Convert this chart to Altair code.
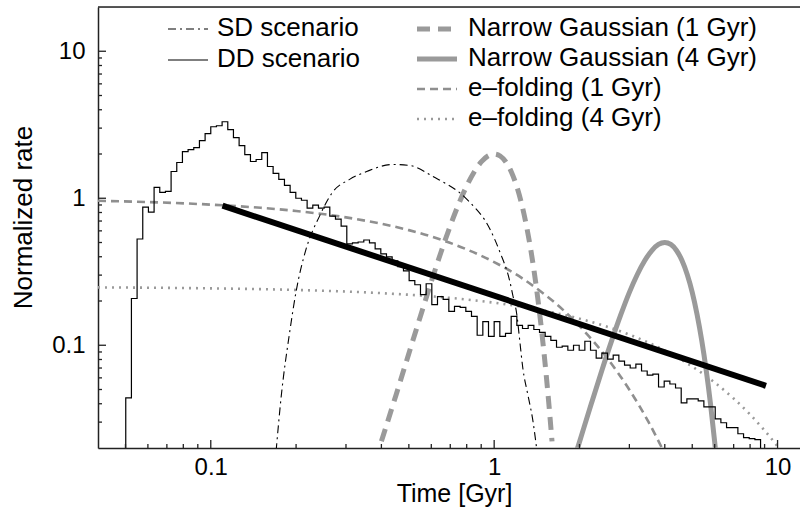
import altair as alt
import pandas as pd

# ---------------------------------------------------------------------------
# Delay-time distributions (time in Gyr, normalized rate)
# ---------------------------------------------------------------------------

# DD scenario: histogram in log-uniform bins (left edge 10**-1.3 Gyr, 0.02 dex wide)
dd_log_t0 = -1.3
dd_bin_dex = 0.02
dd_rate = [
    0.0438, 0.208, 0.528, 0.869, 0.804, 1.187, 1.098, 1.115, 1.521, 1.751,
    2.078, 2.143, 2.211, 2.466, 2.749, 3.065, 3.113, 3.314, 2.926, 2.583,
    2.281, 1.983, 1.778, 1.835, 2.046, 1.645, 1.476, 1.344, 1.224, 1.098,
    1.0, 0.969, 0.856, 0.897, 0.856, 0.869, 0.756, 0.721, 0.647, 0.489,
    0.497, 0.504, 0.520, 0.497, 0.452, 0.419, 0.399, 0.375, 0.342, 0.321,
    0.275, 0.258, 0.221, 0.262, 0.189, 0.214, 0.205, 0.170, 0.184, 0.181,
    0.170, 0.157, 0.117, 0.145, 0.115, 0.145, 0.115, 0.1205, 0.157, 0.1365,
    0.130, 0.1365, 0.128, 0.1225, 0.115, 0.108, 0.0969, 0.0985, 0.0925, 0.100,
    0.0925, 0.1065, 0.0925, 0.0817, 0.0883, 0.0804, 0.0856, 0.0780, 0.0733, 0.0700,
    0.0744, 0.0668, 0.0627, 0.0637, 0.0520, 0.0571, 0.0545, 0.0512, 0.0406, 0.0432,
    0.0432, 0.0418, 0.0381, 0.0381, 0.0316, 0.0297, 0.0275, 0.0275, 0.0250, 0.0235,
    0.0232, 0.0228, 0.019,
]

# SD scenario
sd_time = [0.170, 0.177, 0.190, 0.200, 0.217, 0.242, 0.269, 0.309, 0.355, 0.438,
           0.504, 0.607, 0.800, 0.966, 1.047, 1.136, 1.164, 1.203, 1.232, 1.262,
           1.315, 1.370, 1.416]
sd_rate = [0.019, 0.0438, 0.124, 0.232, 0.452, 0.756, 1.098, 1.344, 1.521, 1.697,
           1.671, 1.408, 0.985, 0.617, 0.432, 0.271, 0.218, 0.160, 0.106, 0.0700,
           0.0460, 0.0306, 0.019]

# Narrow Gaussian centred on 1 Gyr
ng1_time = [0.40, 0.45, 0.50, 0.55, 0.60, 0.65, 0.70, 0.75, 0.80, 0.85, 0.90, 0.95,
            1.00, 1.05, 1.10, 1.15, 1.20, 1.25, 1.30, 1.35, 1.40, 1.45, 1.50, 1.55, 1.60]
ng1_rate = [0.0222, 0.0456, 0.0879, 0.159, 0.271, 0.433, 0.649, 0.916, 1.213, 1.510,
            1.765, 1.938, 2.0, 1.938, 1.765, 1.510, 1.213, 0.916, 0.649, 0.433,
            0.271, 0.159, 0.0879, 0.0456, 0.0222]

# Narrow Gaussian centred on 4 Gyr
ng4_time = [1.9, 2.0, 2.2, 2.4, 2.6, 2.8, 3.0, 3.2, 3.4, 3.6, 3.8, 4.0,
            4.2, 4.4, 4.6, 4.8, 5.0, 5.2, 5.4, 5.6, 5.8, 6.0, 6.1]
ng4_rate = [0.016, 0.0220, 0.0398, 0.0677, 0.108, 0.162, 0.229, 0.303, 0.377, 0.441,
            0.485, 0.5, 0.485, 0.441, 0.377, 0.303, 0.229, 0.162, 0.108, 0.0677,
            0.0398, 0.0220, 0.016]

# e-folding, 1 Gyr
ef1_time = [0.04, 0.06, 0.1, 0.15, 0.2, 0.3, 0.4, 0.5, 0.6, 0.8, 1.0, 1.25, 1.5,
            1.75, 2.0, 2.5, 3.0, 3.5, 4.0]
ef1_rate = [0.961, 0.942, 0.905, 0.861, 0.819, 0.741, 0.670, 0.607, 0.549, 0.449,
            0.368, 0.287, 0.223, 0.174, 0.135, 0.0821, 0.0498, 0.0302, 0.0183]

# e-folding, 4 Gyr
ef4_time = [0.04, 0.1, 0.2, 0.4, 0.6, 0.8, 1.0, 1.5, 2.0, 3.0, 4.0, 5.0, 6.0, 7.0,
            8.0, 9.0, 10.0, 10.5]
ef4_rate = [0.2475, 0.2438, 0.2378, 0.2262, 0.2152, 0.2047, 0.1947, 0.1718, 0.1516,
            0.1181, 0.0920, 0.0716, 0.0558, 0.0434, 0.0338, 0.0263, 0.0205, 0.0181]

# Power-law reference line
pl_time = [0.11, 9.1]
pl_rate = [0.89, 0.053]

# Axis ticks
x_major = [0.1, 1, 10]
x_minor = [0.05, 0.06, 0.07, 0.08, 0.09, 0.2, 0.3, 0.4, 0.5, 0.6, 0.7, 0.8, 0.9,
           2, 3, 4, 5, 6, 7, 8, 9]
y_major = [0.1, 1, 10]
y_minor = [0.03, 0.04, 0.05, 0.06, 0.07, 0.08, 0.09, 0.2, 0.3, 0.4, 0.5, 0.6, 0.7,
           0.8, 0.9, 2, 3, 4, 5, 6, 7, 8, 9]

# ---------------------------------------------------------------------------
W, H = 702, 441
FONT = "Liberation Sans"
GRAY = "#9a9a9a"

x_enc = alt.X(
    "t:Q",
    scale=alt.Scale(type="log", domain=[0.04, 12], nice=False),
    axis=alt.Axis(
        values=x_major, format="~g", ticks=False, grid=False,
        labelFont=FONT, labelFontSize=24, labelColor="black", labelPadding=7,
        domainColor="#222", domainWidth=1.5,
        title="Time [Gyr]", titleFont=FONT, titleFontSize=25,
        titleFontWeight="normal", titleColor="black",
        titleX=356, titleY=53, titleBaseline="alphabetic",
    ),
)
y_enc = alt.Y(
    "v:Q",
    scale=alt.Scale(type="log", domain=[0.02, 20], nice=False),
    axis=alt.Axis(
        values=y_major, format="~g", ticks=False, grid=False,
        labelFont=FONT, labelFontSize=24, labelColor="black", labelPadding=13,
        domainColor="#222", domainWidth=1.5,
        title="Normalized rate", titleFont=FONT, titleFontSize=26,
        titleFontWeight="normal", titleColor="black",
        titleX=-75, titleY=210, titleBaseline="middle", titleAlign="center",
        titleAngle=270,
    ),
)


def curve(times, rates, **mark):
    df = pd.DataFrame({"t": times, "v": rates, "o": range(len(times))})
    return alt.Chart(df).mark_line(clip=True, **mark).encode(
        x=x_enc, y=y_enc, order="o:Q"
    )


# DD histogram as a stepped outline
edges = [10 ** (dd_log_t0 + dd_bin_dex * i) for i in range(len(dd_rate) + 1)]
dd_t = [edges[0]] + edges[:-1] + [edges[-1]]
dd_v = [0.01] + dd_rate + [dd_rate[-1]]
dd_layer = curve(dd_t, dd_v, interpolate="step-after", color="black", strokeWidth=1.2)

sd_layer = curve(sd_time, sd_rate, interpolate="monotone", color="black",
                 strokeWidth=1.1, strokeDash=[8, 4, 2, 4])
ng1_layer = curve(ng1_time, ng1_rate, interpolate="monotone", color=GRAY,
                  strokeWidth=5, strokeDash=[13, 8])
ng4_layer = curve(ng4_time, ng4_rate, interpolate="monotone", color=GRAY,
                  strokeWidth=5)
ef1_layer = curve(ef1_time, ef1_rate, interpolate="monotone", color="#8f8f8f",
                  strokeWidth=2.6, strokeDash=[8, 5])
ef4_layer = curve(ef4_time, ef4_rate, interpolate="monotone", color=GRAY,
                  strokeWidth=2.6, strokeDash=[2, 5])
pl_layer = curve(pl_time, pl_rate, color="black", strokeWidth=6, strokeCap="butt")

# Inward-facing axis ticks
def xticks(vals, length):
    df = pd.DataFrame({"t": vals})
    return alt.Chart(df).mark_rule(color="#222", strokeWidth=1.3).encode(
        x=x_enc, y=alt.value(H), y2=alt.value(H - length)
    )


def yticks(vals, length):
    df = pd.DataFrame({"v": vals})
    return alt.Chart(df).mark_rule(color="#222", strokeWidth=1.3).encode(
        y=y_enc, x=alt.value(0), x2=alt.value(length)
    )


one = pd.DataFrame({"k": [0]})
top_line = alt.Chart(one).mark_rule(color="#222", strokeWidth=1.5).encode(
    x=alt.value(0), x2=alt.value(W), y=alt.value(0)
)

# Legend drawn inside the plot
legend_labels = ["SD scenario", "DD scenario", "Narrow Gaussian (1 Gyr)",
                 "Narrow Gaussian (4 Gyr)", "e\u2013folding (1 Gyr)", "e\u2013folding (4 Gyr)"]
legend_styles = [
    dict(color="black", strokeWidth=1.1, strokeDash=[8, 4, 2, 4]),
    dict(color="black", strokeWidth=1.2),
    dict(color=GRAY, strokeWidth=5, strokeDash=[13, 8]),
    dict(color=GRAY, strokeWidth=5),
    dict(color="#8f8f8f", strokeWidth=2.6, strokeDash=[8, 5]),
    dict(color=GRAY, strokeWidth=2.6, strokeDash=[2, 5]),
]
# (sample x0, sample x1, text x, row y)
legend_pos = [
    (70, 110, 119, 29), (70, 110, 119, 60),
    (319, 359, 370, 29), (319, 359, 370, 59),
    (319, 359, 370, 89), (319, 359, 370, 119),
]
legend_layers = []
for label, style, (x0, x1, xt, yb) in zip(legend_labels, legend_styles, legend_pos):
    legend_layers.append(
        alt.Chart(one).mark_rule(strokeCap="butt", **style).encode(
            x=alt.value(x0), x2=alt.value(x1), y=alt.value(yb - 7)
        )
    )
    legend_layers.append(
        alt.Chart(one).mark_text(
            align="left", baseline="alphabetic", font=FONT, fontSize=26, color="black"
        ).encode(x=alt.value(xt), y=alt.value(yb), text=alt.value(label))
    )

chart = alt.layer(
    ef4_layer, ef1_layer, ng1_layer, ng4_layer, sd_layer, dd_layer, pl_layer,
    xticks(x_major, 8), xticks(x_minor, 4), yticks(y_major, 8), yticks(y_minor, 4),
    top_line, *legend_layers,
).properties(
    width=W, height=H,
    padding={"left": 98, "top": 7, "right": 0, "bottom": 64},
    autosize="none",
).configure_view(stroke=None).configure(background="white")

chart.save("out.html", embed_options={"renderer": "svg", "actions": False})
